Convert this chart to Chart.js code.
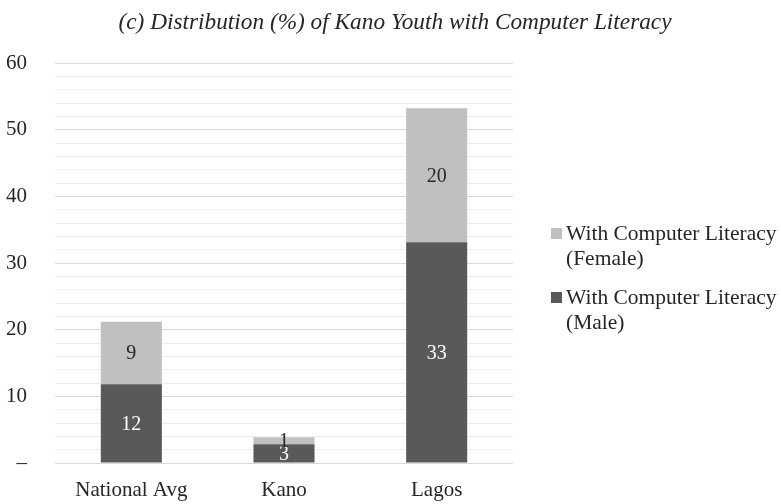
<!DOCTYPE html>
<html>
<head>
<meta charset="utf-8">
<script src="https://cdn.jsdelivr.net/npm/chart.js@4.4.1/dist/chart.umd.min.js"></script>
<style>
  html, body { margin: 0; padding: 0; background: #ffffff; }
  #wrap { width: 781px; height: 504px; }
</style>
</head>
<body>
<div id="wrap"><canvas id="c" width="781" height="504"></canvas></div>
<script>
const categories = ['National Avg', 'Kano', 'Lagos'];
const maleValues = [11.8, 2.8, 33.1];
const femaleValues = [9.4, 1.05, 20.1];
const maleLabel = ['With Computer Literacy', '(Male)'];
const femaleLabel = ['With Computer Literacy', '(Female)'];
const titleText = '(c) Distribution (%) of Kano Youth with Computer Literacy';

const SERIF = '"Liberation Serif", "DejaVu Serif", serif';
const TEXT = '#262626';
const DARK = '#595959';
const LIGHT = '#c0c0c0';

const valueLabels = {
  id: 'valueLabels',
  afterDatasetsDraw(chart) {
    const ctx = chart.ctx;
    ctx.save();
    ctx.font = '20px ' + SERIF;
    ctx.textAlign = 'center';
    ctx.textBaseline = 'middle';
    chart.data.datasets.forEach((ds, di) => {
      const meta = chart.getDatasetMeta(di);
      meta.data.forEach((el, i) => {
        const p = el.getProps(['x', 'y', 'base'], true);
        ctx.fillStyle = ds.labelColor;
        ctx.fillText(String(Math.round(ds.data[i])), p.x, (p.y + p.base) / 2 + 1);
      });
    });
    ctx.restore();
  }
};

const sideLegendAndTitle = {
  id: 'sideLegendAndTitle',
  afterDraw(chart) {
    const ctx = chart.ctx;
    ctx.save();
    ctx.fillStyle = TEXT;
    ctx.font = 'italic 23.3px ' + SERIF;
    ctx.textAlign = 'center';
    ctx.textBaseline = 'middle';
    ctx.fillText(titleText, 395, 23);

    ctx.font = '21.5px ' + SERIF;
    ctx.textAlign = 'left';
    const order = [1, 0];
    let y = 233;
    order.forEach(di => {
      const ds = chart.data.datasets[di];
      ctx.fillStyle = ds.backgroundColor;
      ctx.fillRect(551, y - 5, 11, 11);
      ctx.fillStyle = TEXT;
      ds.legendLines.forEach((t, k) => ctx.fillText(t, 566, y + 1 + k * 25));
      y += 64;
    });
    ctx.restore();
  }
};

new Chart(document.getElementById('c'), {
  type: 'bar',
  data: {
    labels: categories,
    datasets: [
      { label: maleLabel.join(' '), legendLines: maleLabel, data: maleValues, backgroundColor: DARK, labelColor: '#ffffff', barPercentage: 0.8, categoryPercentage: 0.5 },
      { label: femaleLabel.join(' '), legendLines: femaleLabel, data: femaleValues, backgroundColor: LIGHT, labelColor: TEXT, barPercentage: 0.8, categoryPercentage: 0.5 }
    ]
  },
  options: {
    responsive: false,
    animation: false,
    devicePixelRatio: 1,
    layout: { padding: { left: 0, right: 268, top: 63, bottom: 0 } },
    plugins: {
      legend: { display: false },
      tooltip: { enabled: false },
      title: { display: false }
    },
    scales: {
      x: {
        stacked: true,
        grid: { display: false, drawTicks: false },
        border: { display: false },
        afterFit: s => { s.height = 41; },
        ticks: { color: TEXT, font: { family: SERIF, size: 21 }, padding: 15 }
      },
      y: {
        stacked: true,
        min: 0,
        max: 60,
        border: { display: false },
        afterFit: s => { s.width = 55; },
        grid: {
          drawTicks: false,
          lineWidth: 1,
          color: c => (c.tick && c.tick.value % 10 === 0) ? '#d9d9d9' : '#ededed'
        },
        ticks: {
          stepSize: 2,
          autoSkip: false,
          padding: 28,
          color: TEXT,
          font: { family: SERIF, size: 21 },
          callback: v => v === 0 ? '–' : (v % 10 === 0 ? String(v) : '')
        }
      }
    }
  },
  plugins: [valueLabels, sideLegendAndTitle]
});
</script>
</body>
</html>
